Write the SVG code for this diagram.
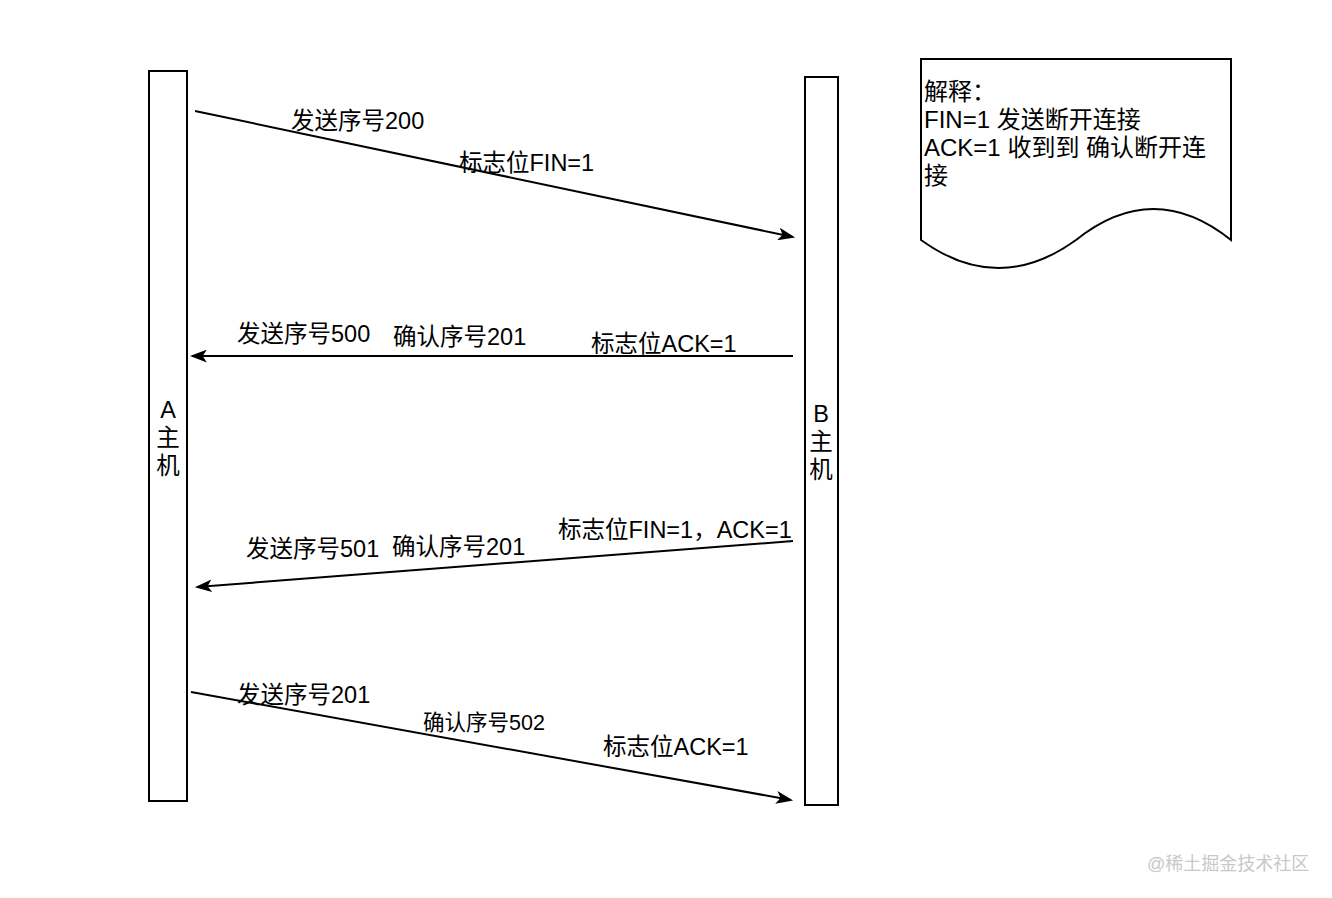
<svg xmlns="http://www.w3.org/2000/svg" width="1332" height="898" viewBox="0 0 1332 898">
<style>
text{font-family:"Liberation Sans","Noto Sans CJK SC",sans-serif;font-size:23.5px;fill:#000}
.box{fill:#fff;stroke:#000;stroke-width:2}
.ln{fill:none;stroke:#000;stroke-width:2}
.mid{text-anchor:middle}
.nt{font-size:24px}
.wm{font-size:18px;fill:#c8c8c8}
</style>
<defs>
<marker id="ah" viewBox="0 0 16 12" refX="14" refY="6" markerWidth="17" markerHeight="13" markerUnits="userSpaceOnUse" orient="auto">
<path d="M0,0 L16,6 L0,12 L4,6 Z" fill="#000"/>
</marker>
</defs>
<rect width="1332" height="898" fill="#fff"/>
<g id="hostA">
<rect class="box" x="149" y="71" width="38" height="730"/>
<text class="mid" x="168" y="418">A</text>
<text class="mid" x="168" y="446">主</text>
<text class="mid" x="168" y="474">机</text>
</g>
<g id="hostB">
<rect class="box" x="805" y="77" width="33" height="728"/>
<text class="mid" x="821" y="422">B</text>
<text class="mid" x="821" y="450">主</text>
<text class="mid" x="821" y="478">机</text>
</g>
<g id="note">
<path class="box" d="M921,59 H1231 V240 Q1153.5,178 1076,240 Q998.5,296 921,240 Z"/>
<text class="nt" x="924" y="100">解释：</text>
<text class="nt" x="924" y="128">FIN=1 发送断开连接</text>
<text class="nt" x="924" y="156">ACK=1 收到到 确认断开连</text>
<text class="nt" x="924" y="184">接</text>
</g>
<g id="connectors">
<line class="ln" x1="195" y1="111" x2="793" y2="237" marker-end="url(#ah)"/>
<line class="ln" x1="793" y1="356" x2="192" y2="356" marker-end="url(#ah)"/>
<line class="ln" x1="793" y1="541" x2="197" y2="587" marker-end="url(#ah)"/>
<line class="ln" x1="191" y1="692" x2="791" y2="800" marker-end="url(#ah)"/>
</g>
<g id="labels">
<text x="291" y="129">发送序号200</text>
<text x="459" y="171">标志位FIN=1</text>
<text x="237" y="342">发送序号500</text>
<text x="393" y="345">确认序号201</text>
<text x="591" y="352">标志位ACK=1</text>
<text x="558" y="538">标志位FIN=1，ACK=1</text>
<text x="246" y="557">发送序号501</text>
<text x="392" y="555">确认序号201</text>
<text x="237" y="703">发送序号201</text>
<text x="423" y="730" style="font-size:21.5px">确认序号502</text>
<text x="603" y="755">标志位ACK=1</text>
</g>
<text class="wm" x="1147" y="870">@稀土掘金技术社区</text>
</svg>
